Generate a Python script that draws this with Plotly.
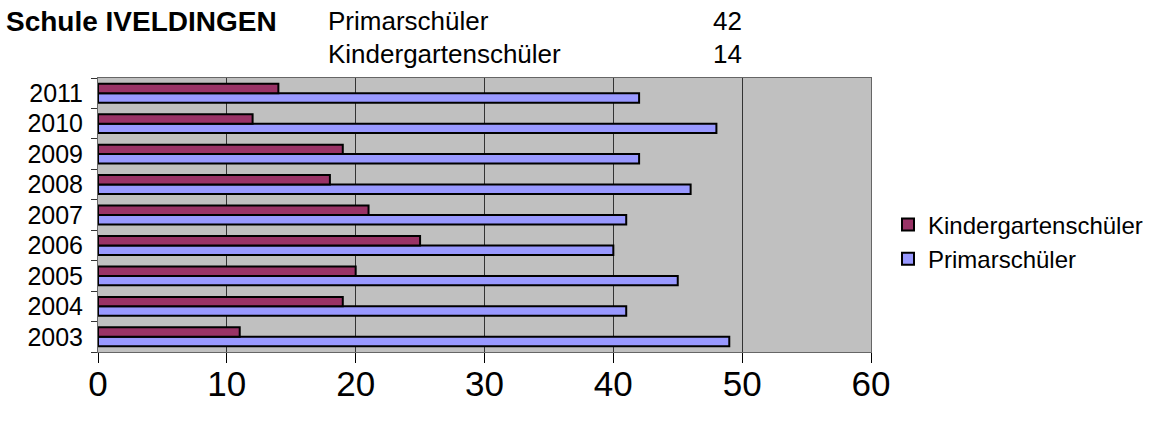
import plotly.graph_objects as go

# Data
years = ['2003', '2004', '2005', '2006', '2007', '2008', '2009', '2010', '2011']
primar = [49, 41, 45, 40, 41, 46, 42, 48, 42]
kindergarten = [11, 19, 20, 25, 21, 18, 19, 12, 14]

school = 'Schule IVELDINGEN'
summary_labels = ['Primarschüler', 'Kindergartenschüler']
summary_values = [42, 14]

x_ticks = [0, 10, 20, 30, 40, 50, 60]

# plot area in pixels (used to place the header text)
L, R, T, B = 98, 871, 78, 352


def px_x(px):
    return (px - L) / (R - L)


def px_y(py):
    return (B - py) / (B - T)


fig = go.Figure()

# Primar first so it sits at the bottom of each group
fig.add_trace(go.Bar(
    y=years, x=primar, orientation='h', name='Primarschüler',
    marker=dict(color='#9999FF', line=dict(color='black', width=2)),
))
fig.add_trace(go.Bar(
    y=years, x=kindergarten, orientation='h', name='Kindergartenschüler',
    marker=dict(color='#993366', line=dict(color='black', width=2)),
))

font = 'Liberation Sans, Arial, sans-serif'

annotations = [
    dict(text='<b>' + school + '</b>', x=px_x(4), y=px_y(21), xanchor='left', yanchor='middle',
         font=dict(size=28, color='black')),
]
for i, (lab, val) in enumerate(zip(summary_labels, summary_values)):
    yy = px_y(21 + i * 33)
    annotations.append(dict(text=lab, x=px_x(326), y=yy, xanchor='left', yanchor='middle',
                            font=dict(size=26, color='black')))
    annotations.append(dict(text=str(val), x=px_x(744), y=yy, xanchor='right', yanchor='middle',
                            font=dict(size=26, color='black')))
for a in annotations:
    a.update(xref='paper', yref='paper', showarrow=False)

fig.update_layout(
    width=1156, height=421,
    margin=dict(l=L, r=1156 - R, t=T, b=421 - B, autoexpand=False),
    paper_bgcolor='white',
    plot_bgcolor='#C0C0C0',
    font=dict(family=font, size=24, color='black'),
    barmode='group',
    bargap=0.38,
    bargroupgap=0.0,
    showlegend=True,
    legend=dict(
        xref='container', yref='container',
        x=888 / 1156, y=1 - 242 / 421, xanchor='left', yanchor='middle',
        traceorder='reversed', font=dict(size=24),
        bgcolor='rgba(0,0,0,0)', itemwidth=30,
    ),
    xaxis=dict(
        range=[0, 60], tickvals=x_ticks, ticks='outside', ticklen=10, tickcolor='black',
        tickfont=dict(size=35), ticklabelstandoff=-9,
        showgrid=True, gridcolor='#333333', gridwidth=1,
        showline=True, linecolor='#666666', linewidth=1, mirror=True, zeroline=False,
    ),
    yaxis=dict(
        categoryorder='array', categoryarray=years,
        tickmode='array', tickvals=years, ticktext=years,
        ticks='outside', tickson='boundaries', ticklen=6, tickcolor='#333333',
        tickfont=dict(size=25), showgrid=False, ticklabelstandoff=9,
        showline=True, linecolor='#666666', linewidth=1, mirror=True,
    ),
    annotations=annotations,
)

# drop the default page margin so the figure sits at the window origin
fig.write_html('out.html', config={'displayModeBar': False},
               post_script="document.body.style.margin='0';")
